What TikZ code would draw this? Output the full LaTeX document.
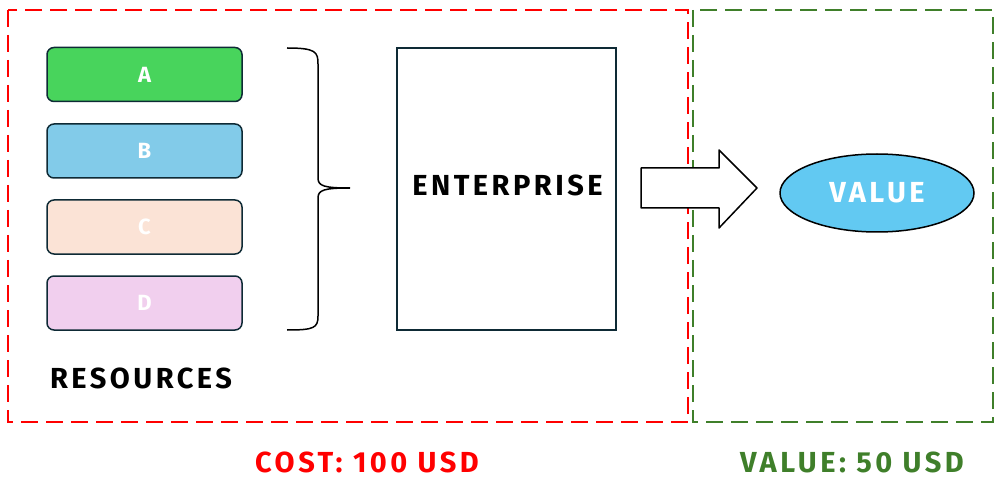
\documentclass[tikz,border=0pt]{standalone}
\usepackage{fontspec}
\setmainfont{Fira Sans}
\newfontfamily\lblfont[LetterSpace=12]{Fira Sans}
\usetikzlibrary{decorations.pathmorphing,shapes.geometric}
\definecolor{cred}{HTML}{FF0000}
\definecolor{cgreen}{HTML}{3F7F2A}
\definecolor{cstroke}{HTML}{0E2A35}
\definecolor{fa}{HTML}{48D45C}
\definecolor{fb}{HTML}{82CBE9}
\definecolor{fc}{HTML}{FBE3D6}
\definecolor{fd}{HTML}{F1CFEE}
\definecolor{fval}{HTML}{62C9F2}
\tikzset{
  zone/.style={draw, dash pattern=on 17pt off 8pt, line width=1.5pt},
  resbox/.style={draw=cstroke, line width=1.5pt, rounded corners=7pt, minimum width=195pt, minimum height=54pt, inner sep=0pt, text=white, font=\lblfont\fontsize{22}{26}\selectfont\bfseries},
  label/.style={inner sep=0pt, font=\lblfont\fontsize{29}{33}\selectfont\bfseries},
}
\begin{document}
\begin{tikzpicture}[x=1pt,y=-1pt]
\useasboundingbox (0,0) rectangle (1004,489);
% zones
\draw[zone, cred] (8,10) rectangle (688,422);
\draw[zone, cgreen] (693,10) rectangle (993,422);
% resources
\node[resbox, fill=fa] (A) at (144.5,74.5) {A};
\node[resbox, fill=fb] (B) at (144.5,151) {B};
\node[resbox, fill=fc] (C) at (144.5,227) {C};
\node[resbox, fill=fd] (D) at (144.5,303) {D};
\node[label] (res) at (141,378) {RESOURCES};
% brace
\draw[line width=1.5pt] (287,48) .. controls (316,48) and (318,52) .. (318,64) -- (318,178) .. controls (318,186) and (324,188) .. (350,188) .. controls (324,188) and (318,190) .. (318,198) -- (318,316) .. controls (318,328) and (314,330) .. (287,330);
% enterprise
\node[draw=cstroke, line width=1.5pt, minimum width=219pt, minimum height=282pt, inner sep=0pt] (ent) at (506.5,189) {};
\node[label] (entl) at (507.5,185) {ENTERPRISE};
% arrow
\draw[line width=1.5pt, fill=white, line join=round] (641,168) -- (719,168) -- (719,150) -- (757,188) -- (719,228) -- (719,208) -- (641,208) -- cycle;
% value ellipse
\node[ellipse, draw=black, fill=fval, line width=1.5pt, minimum width=194pt, minimum height=78pt, inner sep=0pt, text=white, font=\lblfont\fontsize{29}{33}\selectfont\bfseries] (val) at (877,193) {VALUE};
% bottom labels
\node[label, text=cred] (cost) at (367,462) {COST: 100 USD};
\node[label, text=cgreen] (vsum) at (852,462) {VALUE: 50 USD};
\end{tikzpicture}
\end{document}
